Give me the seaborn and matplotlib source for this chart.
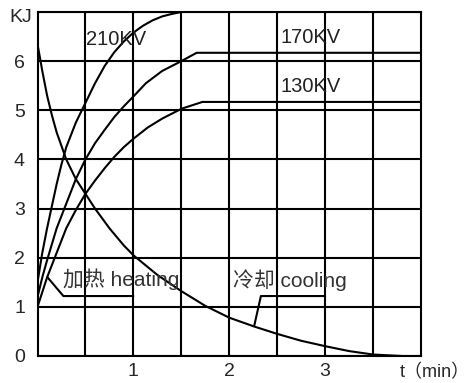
# Heating / cooling energy curves (KJ vs time)
import numpy as np
import pandas as pd
import matplotlib
matplotlib.use("Agg")
import matplotlib.pyplot as plt
import seaborn as sns

# ---------------------------------------------------------------
# Data

# heating, 210KV (runs off the top of the chart)
t_210 = [0, 0.05, 0.1, 0.15, 0.2, 0.25, 0.3, 0.4, 0.5, 0.6, 0.7, 0.8,
         0.9, 1.0, 1.1, 1.2, 1.3, 1.4, 1.5]
kj_210 = [1.5, 2.1, 2.6, 3.05, 3.5, 3.9, 4.25, 4.75, 5.15, 5.55, 5.9, 6.18,
          6.4, 6.58, 6.72, 6.83, 6.91, 6.96, 7.0]

# heating, 170KV (levels off at ~6.17)
t_170 = [0, 0.05, 0.1, 0.2, 0.3, 0.4, 0.5, 0.6, 0.7, 0.8, 0.9, 1.0,
         1.13, 1.3, 1.5, 1.66, 4.0]
kj_170 = [1.2, 1.6, 1.95, 2.6, 3.1, 3.6, 4.0, 4.33, 4.6, 4.86, 5.08, 5.28,
          5.55, 5.8, 6.0, 6.17, 6.17]

# heating, 130KV (levels off at ~5.17)
t_130 = [0, 0.05, 0.1, 0.2, 0.3, 0.4, 0.5, 0.6, 0.7, 0.8, 0.9, 1.0,
         1.15, 1.3, 1.5, 1.72, 4.0]
kj_130 = [1.0, 1.3, 1.6, 2.1, 2.6, 2.97, 3.3, 3.57, 3.82, 4.05, 4.25, 4.42,
          4.65, 4.83, 5.03, 5.17, 5.17]

# cooling
t_cool = [0, 0.05, 0.1, 0.15, 0.2, 0.3, 0.4, 0.5, 0.6, 0.75, 0.9, 1.0,
          1.25, 1.5, 1.75, 2.0, 2.26, 2.5, 2.75, 3.0, 3.25, 3.5, 3.8]
kj_cool = [6.35, 5.8, 5.3, 4.9, 4.55, 4.0, 3.6, 3.3, 3.0, 2.6, 2.25, 2.05,
           1.65, 1.32, 1.02, 0.78, 0.6, 0.45, 0.31, 0.2, 0.1, 0.03, 0.0]

# leader lines for the two labels
heat_lead_t = [0.105, 0.27, 1.0]
heat_lead_kj = [1.6, 1.22, 1.22]
cool_lead_t = [2.26, 2.33, 3.0]
cool_lead_kj = [0.61, 1.22, 1.22]

y_ticks = [0, 1, 2, 3, 4, 5, 6]
x_ticks = [1, 2, 3]

curves = [
    (t_210, kj_210, "210KV", 0.51, 6.44),
    (t_170, kj_170, "170KV", 2.53, 6.48),
    (t_130, kj_130, "130KV", 2.53, 5.48),
]

# ---------------------------------------------------------------
sns.set_style("white")
fonts = ["Liberation Sans", "Noto Sans CJK SC", "DejaVu Sans"]
plt.rcParams["font.family"] = fonts

fig = plt.figure(figsize=(4.76, 3.83), dpi=100)
ax = fig.add_axes([37.5 / 476, 27 / 383, 383.5 / 476, 344 / 383])

lw = 1.5
for t, kj, name, lx, ly in curves:
    df = pd.DataFrame({"t": t, "kj": kj})
    sns.lineplot(data=df, x="t", y="kj", color="black", lw=lw,
                 estimator=None, sort=False, ax=ax)
    ax.text(lx, ly, name, fontsize=14.5, color="#222222",
            ha="left", va="center")

cool = pd.DataFrame({"t": t_cool, "kj": kj_cool})
sns.lineplot(data=cool, x="t", y="kj", color="black", lw=lw,
             estimator=None, sort=False, ax=ax)

ax.plot(heat_lead_t, heat_lead_kj, color="black", lw=lw)
ax.plot(cool_lead_t, cool_lead_kj, color="black", lw=lw)
ax.text(0.265, 1.57, "加热 heating", fontsize=15, color="#333333",
        ha="left", va="center")
ax.text(2.04, 1.55, "冷却 cooling", fontsize=15, color="#333333",
        ha="left", va="center")

# axes, grid
ax.set_xlim(0, 4)
ax.set_ylim(0, 7)
ax.set_xticks(x_ticks)
ax.set_xticks(np.arange(0.5, 4, 0.5), minor=True)
ax.set_yticks(y_ticks)
ax.set_yticks([7], minor=True)
ax.set_xlabel("")
ax.set_ylabel("")
ax.grid(True, which="both", color="black", lw=lw)
ax.tick_params(which="both", length=0)
ax.tick_params(axis="y", pad=9, labelsize=14)
ax.tick_params(axis="x", pad=5, labelsize=14)
for s in ax.spines.values():
    s.set_color("black")
    s.set_linewidth(lw)
ax.set_axisbelow(True)

fig.text(21 / 476, 1 - 18 / 383, "KJ", fontsize=14, ha="center", va="center")
fig.text(400 / 476, 1 - 373 / 383, "t（min）", fontsize=13,
         ha="left", va="center")

plt.savefig("out.png", dpi=100)
